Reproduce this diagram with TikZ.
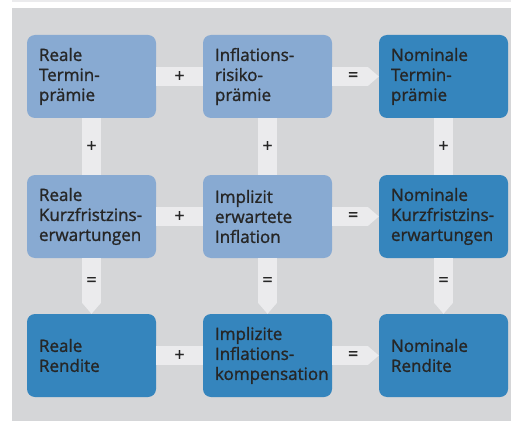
\documentclass[tikz,border=0pt]{standalone}
\usepackage{fontspec}
\setmainfont{Open Sans}[FakeBold=1.3]
\usetikzlibrary{positioning,arrows.meta}
\definecolor{lightbox}{HTML}{88AAD2}
\definecolor{darkbox}{HTML}{3585BD}
\definecolor{bgrey}{HTML}{D5D6D8}
\definecolor{band}{HTML}{EBEBED}
\definecolor{ink}{HTML}{262626}
\tikzstyle{lb}=[fill=lightbox,rounded corners=8pt,minimum width=129pt,minimum height=83pt,text width=105pt,inner xsep=12pt,align=left,text=ink,font=\fontsize{17}{20}\selectfont]
\tikzstyle{db}=[lb,fill=darkbox]
\tikzstyle{pl}=[line width=19pt,draw=band]
\tikzstyle{eq}=[pl,-{Triangle[length=11pt,width=19pt,line width=0pt]}]
\tikzstyle{op}=[text=ink,font=\fontsize{18}{18}\selectfont]
\begin{document}
\begin{tikzpicture}
     \useasboundingbox (0,0) rectangle (511pt,421pt);
     \fill[band] (12pt,419pt) rectangle (511pt,421pt);
     \fill[bgrey] (12pt,0) rectangle (511pt,413pt);
     \node [lb] (rtp) at (91.5pt,344.5pt) {Reale\\Termin-\\prämie};
     \node [lb,right of=rtp,node distance=176pt] (irp) {Inflations-\\risiko-\\prämie};
     \node [db,right of=irp,node distance=176pt] (ntp) {Nominale\\Termin-\\prämie};
     \node [lb,below of=rtp,node distance=140pt] (rkz) {Reale\\Kurzfristzins-\\erwartungen};
     \node [lb,right of=rkz,node distance=176pt] (iei) {Implizit\\erwartete\\Inflation};
     \node [db,right of=iei,node distance=176pt] (nkz) {Nominale\\Kurzfristzins-\\erwartungen};
     \node [db,below of=rkz,node distance=139pt] (rr) {Reale\\Rendite};
     \node [db,right of=rr,node distance=176pt] (iik) {Implizite\\Inflations-\\kompensation};
     \node [db,right of=iik,node distance=176pt] (nr) {Nominale\\Rendite};
     \draw [pl] (rtp) -- node[op] {+} (irp);
     \draw [eq] (irp) -- node[op,pos=0.45] {=} (ntp);
     \draw [pl] (rkz) -- node[op] {+} (iei);
     \draw [eq] (iei) -- node[op,pos=0.45] {=} (nkz);
     \draw [pl] (rr) -- node[op] {+} (iik);
     \draw [eq] (iik) -- node[op,pos=0.45] {=} (nr);
     \draw [pl] (rtp) -- node[op] {+} (rkz);
     \draw [pl] (irp) -- node[op] {+} (iei);
     \draw [pl] (ntp) -- node[op] {+} (nkz);
     \draw [eq] (rkz) -- node[op,pos=0.42] {=} (rr);
     \draw [eq] (iei) -- node[op,pos=0.42] {=} (iik);
     \draw [eq] (nkz) -- node[op,pos=0.42] {=} (nr);
\end{tikzpicture}
\end{document}
